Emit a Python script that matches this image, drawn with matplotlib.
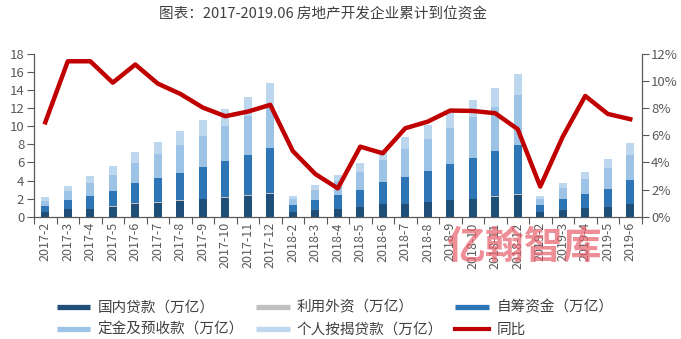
import matplotlib
matplotlib.use("Agg")
import matplotlib.pyplot as plt
import numpy as np
from matplotlib.lines import Line2D
from matplotlib.ticker import FuncFormatter, FixedLocator

plt.rcParams["font.family"] = ["Noto Sans CJK SC", "DejaVu Sans"]

# 月份（累计）
months = ["2017-2", "2017-3", "2017-4", "2017-5", "2017-6", "2017-7", "2017-8",
          "2017-9", "2017-10", "2017-11", "2017-12",
          "2018-2", "2018-3", "2018-4", "2018-5", "2018-6", "2018-7", "2018-8",
          "2018-9", "2018-10", "2018-11", "2018-12",
          "2019-2", "2019-3", "2019-4", "2019-5", "2019-6"]

# 各资金来源（万亿），读自原图
domestic_loans = [0.55, 0.82, 0.85, 1.10, 1.44, 1.55, 1.77, 1.96, 2.10, 2.33, 2.55,
                  0.55, 0.74, 0.85, 1.10, 1.37, 1.40, 1.63, 1.85, 1.96, 2.22, 2.40,
                  0.52, 0.70, 0.92, 1.10, 1.40]
foreign_capital = [0.01, 0.02, 0.02, 0.03, 0.03, 0.03, 0.04, 0.04, 0.04, 0.05, 0.05,
                   0.01, 0.01, 0.02, 0.02, 0.03, 0.03, 0.03, 0.04, 0.04, 0.04, 0.06,
                   0.01, 0.01, 0.02, 0.02, 0.03]
self_raised = [0.64, 1.01, 1.46, 1.72, 2.26, 2.74, 3.07, 3.54, 4.06, 4.46, 5.05,
               0.74, 1.10, 1.53, 1.84, 2.48, 3.00, 3.40, 3.95, 4.54, 5.02, 5.49,
               0.80, 1.25, 1.57, 1.95, 2.64]
deposits_prepay = [0.57, 1.00, 1.44, 1.75, 2.22, 2.63, 3.07, 3.40, 3.85, 4.36, 4.43,
                   0.66, 1.15, 1.50, 1.94, 2.40, 3.03, 3.54, 3.99, 4.54, 4.92, 5.55,
                   0.59, 1.22, 1.63, 2.33, 2.77]
mortgage = [0.41, 0.59, 0.73, 1.05, 1.22, 1.33, 1.58, 1.78, 1.89, 2.03, 2.74,
            0.34, 0.50, 0.72, 1.00, 1.11, 1.34, 1.56, 1.81, 1.85, 2.03, 2.32,
            0.37, 0.52, 0.81, 0.99, 1.29]
# 同比（%）
yoy = [6.97, 11.48, 11.48, 9.90, 11.24, 9.83, 9.07, 8.06, 7.42, 7.76, 8.26,
       4.85, 3.15, 2.09, 5.17, 4.68, 6.53, 7.02, 7.84, 7.81, 7.64, 6.46,
       2.22, 5.91, 8.92, 7.59, 7.20]

series = [
    ("国内贷款（万亿）", domestic_loans, "#1F4E79"),
    ("利用外资（万亿）", foreign_capital, "#C0C0C0"),
    ("自筹资金（万亿）", self_raised, "#2E75B6"),
    ("定金及预收款（万亿）", deposits_prepay, "#9DC3E6"),
    ("个人按揭贷款（万亿）", mortgage, "#BDD7EE"),
]
line_color = "#C00000"
text_color = "#595959"
spine_color = "#595959"

fig = plt.figure(figsize=(6.81, 3.39), dpi=100)
ax = fig.add_axes([0.050, 0.361, 0.892, 0.479])
ax2 = ax.twinx()

x = np.arange(len(months))
bottom = np.zeros(len(months))
for label, vals, color in series:
    ax.bar(x, vals, width=0.36, bottom=bottom, color=color, linewidth=0, zorder=2)
    bottom += np.array(vals)

ax2.plot(x, yoy, color=line_color, lw=3.2, solid_joinstyle="round", zorder=3)

ax.set_xlim(-0.5, len(months) - 0.5)
ax.set_ylim(0, 18)
ax.set_yticks(range(0, 19, 2))
ax2.set_ylim(0, 12)
ax2.set_yticks(range(0, 13, 2))
ax2.yaxis.set_major_formatter(FuncFormatter(lambda v, _: f"{v:.0f}%"))

ax.set_xticks(x)
ax.set_xticklabels(months, rotation=90)
ax.xaxis.set_minor_locator(FixedLocator(np.arange(-0.5, len(months), 1.0)))
ax.tick_params(axis="x", which="major", length=0, pad=4, labelsize=9, labelcolor=text_color)
ax.tick_params(axis="x", which="minor", length=5, width=0.8, color=spine_color, direction="out")
ax.tick_params(axis="y", length=5, width=0.8, color=spine_color, labelsize=9.5,
               labelcolor=text_color, pad=2)
ax2.tick_params(axis="y", length=5, width=0.8, color=spine_color, labelsize=9.5,
                labelcolor=text_color, pad=2)

for a in (ax, ax2):
    a.spines["top"].set_visible(False)
    for s in ("left", "right", "bottom"):
        a.spines[s].set_color(spine_color)
        a.spines[s].set_linewidth(0.8)
ax.set_zorder(ax2.get_zorder() - 1)
ax.patch.set_visible(False)

fig.text(0.474, 0.958, "图表：2017-2019.06 房地产开发企业累计到位资金",
         ha="center", va="center", fontsize=10.5, color="#404040")

# 水印
fig.text(0.77, 0.27, "亿翰智库", ha="center", va="center", fontsize=28,
         fontweight="bold", color="#E8606C", alpha=0.7, zorder=0)

handles = [Line2D([], [], color=c, lw=3.8, solid_capstyle="butt") for _, _, c in series]
handles.append(Line2D([], [], color=line_color, lw=3.0))
labels = [s[0] for s in series] + ["同比"]
order = [0, 3, 1, 4, 2, 5]
fig.legend([handles[i] for i in order], [labels[i] for i in order],
           loc="center left", bbox_to_anchor=(0.083, 0.06), ncol=3, frameon=False,
           fontsize=10.5, handlelength=2.3, handletextpad=0.5, columnspacing=0.85,
           labelspacing=0.55, labelcolor="#404040", borderpad=0, borderaxespad=0)

fig.savefig("out.png", dpi=100)
